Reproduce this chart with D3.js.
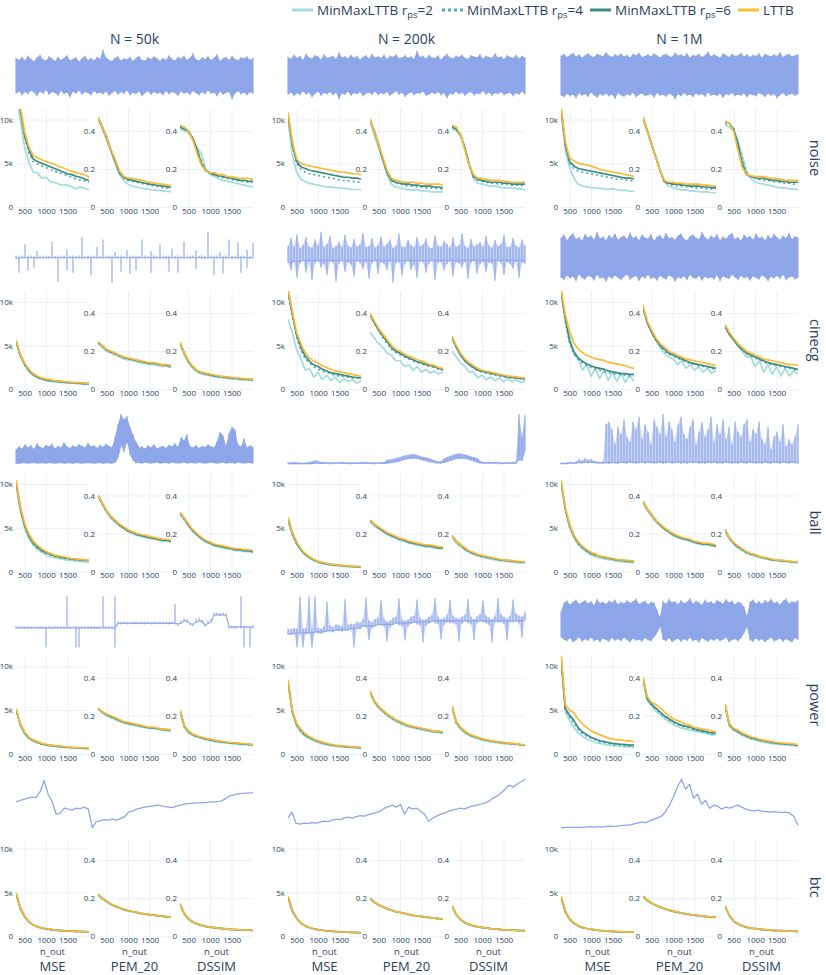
<!DOCTYPE html>
<html><head><meta charset="utf-8">
<script src="https://cdn.jsdelivr.net/npm/d3@7"></script>
<style>body{margin:0;background:#fff}svg{display:block}text{font-family:"Open Sans",sans-serif;fill:#2a3f5f}</style>
</head><body><svg id="c" width="826" height="975"></svg>
<script>
// ---------------- DATA ----------------
const datasets = ["noise","cinecg","ball","power","btc"];
const sizes = ["50k","200k","1M"];
const sizeTitles = ["N = 50k","N = 200k","N = 1M"];
const metrics = ["MSE","PEM_20","DSSIM"];
const seriesLabels = ["MinMaxLTTB r_ps=2","MinMaxLTTB r_ps=4","MinMaxLTTB r_ps=6","LTTB"];
const n_out = [300,400,500,600,700,800,900,1000,1100,1200,1300,1400,1500,1600,1700,1800,1900,2000];
const xTicks = [500,1000,1500];
const mseTicks = [0,5,10];            // MSE values are in thousands
const mseTickLabels = ["0","5k","10k"];
const ratioTicks = [0,0.2,0.4];
const ratioTickLabels = ["0","0.2","0.4"];

// metric curves: [r_ps=2, r_ps=4, r_ps=6, LTTB]; MSE in thousands
const noise_50k_MSE = [
 [13.0,10.0,6.8,5.1,4.0,3.9,3.3,3.4,2.9,2.8,2.6,2.5,2.5,2.3,2.1,2.3,2.1,2.0],
 [13.6,11.0,8.0,6.2,5.2,4.9,4.7,4.5,4.3,4.1,3.9,3.8,3.6,3.4,3.2,3.1,3.0,2.8],
 [13.8,11.2,8.2,6.5,5.5,5.2,5.0,4.8,4.6,4.4,4.2,4.0,3.8,3.7,3.5,3.4,3.2,3.0],
 [14.0,11.5,8.6,6.9,5.9,5.6,5.4,5.2,5.0,4.9,4.6,4.5,4.2,4.1,3.9,3.8,3.7,3.4]];
const noise_50k_PEM = [
 [0.46,0.41,0.35,0.29,0.23,0.17,0.14,0.12,0.11,0.105,0.10,0.095,0.092,0.09,0.087,0.085,0.082,0.08],
 [0.47,0.42,0.36,0.30,0.24,0.18,0.15,0.14,0.135,0.13,0.125,0.12,0.115,0.11,0.107,0.103,0.10,0.097],
 [0.47,0.42,0.37,0.30,0.24,0.18,0.155,0.145,0.14,0.135,0.13,0.125,0.12,0.117,0.113,0.11,0.107,0.103],
 [0.47,0.42,0.37,0.30,0.25,0.19,0.16,0.152,0.15,0.145,0.14,0.135,0.13,0.127,0.122,0.12,0.116,0.112]];
const noise_50k_DSSIM = [
 [0.41,0.40,0.39,0.36,0.31,0.28,0.20,0.17,0.16,0.15,0.14,0.135,0.13,0.125,0.12,0.115,0.11,0.105],
 [0.42,0.41,0.39,0.36,0.30,0.24,0.19,0.175,0.17,0.16,0.155,0.15,0.145,0.14,0.135,0.135,0.13,0.13],
 [0.42,0.41,0.40,0.36,0.30,0.23,0.19,0.18,0.17,0.165,0.16,0.155,0.15,0.145,0.14,0.14,0.135,0.135],
 [0.43,0.42,0.40,0.35,0.28,0.22,0.19,0.18,0.18,0.17,0.17,0.16,0.16,0.155,0.15,0.15,0.15,0.145]];
const noise_200k_MSE = [
 [10.0,6.0,4.0,3.2,2.9,2.7,2.6,2.5,2.4,2.3,2.3,2.2,2.2,2.1,2.1,2.0,2.0,2.0],
 [10.5,7.0,5.0,4.3,4.0,3.8,3.7,3.6,3.5,3.4,3.3,3.2,3.1,3.0,3.0,2.9,2.9,2.8],
 [10.6,7.2,5.2,4.6,4.4,4.2,4.1,4.0,3.9,3.8,3.7,3.6,3.5,3.4,3.4,3.3,3.3,3.2],
 [10.8,7.5,5.5,5.0,4.8,4.7,4.6,4.5,4.4,4.3,4.2,4.1,4.0,4.0,3.9,3.8,3.8,3.7]];
const noise_200k_PEM = [
 [0.45,0.38,0.31,0.24,0.17,0.12,0.105,0.10,0.095,0.09,0.09,0.09,0.085,0.085,0.08,0.08,0.08,0.08],
 [0.46,0.39,0.32,0.25,0.18,0.14,0.125,0.12,0.115,0.11,0.11,0.105,0.105,0.10,0.10,0.10,0.095,0.095],
 [0.46,0.40,0.33,0.25,0.18,0.14,0.13,0.125,0.12,0.12,0.115,0.115,0.11,0.11,0.11,0.105,0.105,0.10],
 [0.46,0.40,0.33,0.26,0.19,0.15,0.14,0.135,0.13,0.13,0.13,0.125,0.125,0.12,0.12,0.12,0.12,0.115]];
const noise_200k_DSSIM = [
 [0.41,0.40,0.37,0.31,0.23,0.15,0.125,0.12,0.115,0.11,0.11,0.105,0.10,0.10,0.10,0.095,0.095,0.09],
 [0.42,0.41,0.38,0.31,0.23,0.16,0.14,0.135,0.13,0.125,0.125,0.12,0.12,0.12,0.115,0.115,0.115,0.11],
 [0.42,0.41,0.38,0.31,0.22,0.16,0.145,0.14,0.135,0.13,0.13,0.13,0.125,0.125,0.12,0.12,0.12,0.12],
 [0.43,0.42,0.38,0.30,0.22,0.17,0.15,0.15,0.145,0.14,0.14,0.14,0.135,0.135,0.13,0.13,0.13,0.13]];
const noise_1M_MSE = [
 [11.0,6.5,4.5,3.3,2.6,2.4,2.3,2.2,2.2,2.1,2.1,2.0,2.1,2.0,1.9,1.9,1.8,1.8],
 [11.2,7.0,5.0,4.4,4.1,4.0,3.9,3.8,3.7,3.6,3.5,3.4,3.3,3.2,3.2,3.1,3.0,3.0],
 [11.3,7.2,5.2,4.7,4.4,4.3,4.2,4.1,4.0,3.9,3.8,3.7,3.6,3.5,3.4,3.3,3.3,3.2],
 [11.5,7.5,5.6,5.3,5.0,4.9,4.8,4.7,4.5,4.3,4.2,4.1,4.0,3.9,3.8,3.7,3.6,3.5]];
const noise_1M_PEM = [
 [0.46,0.40,0.33,0.26,0.19,0.13,0.11,0.10,0.095,0.09,0.09,0.085,0.085,0.08,0.08,0.08,0.075,0.075],
 [0.47,0.40,0.33,0.26,0.19,0.13,0.12,0.115,0.11,0.11,0.105,0.105,0.10,0.10,0.10,0.095,0.095,0.095],
 [0.47,0.40,0.33,0.26,0.19,0.135,0.125,0.12,0.12,0.115,0.115,0.11,0.11,0.11,0.105,0.105,0.10,0.10],
 [0.47,0.40,0.33,0.26,0.19,0.14,0.13,0.13,0.125,0.125,0.12,0.12,0.12,0.12,0.115,0.115,0.11,0.11]];
const noise_1M_DSSIM = [
 [0.43,0.42,0.40,0.35,0.27,0.19,0.15,0.13,0.125,0.12,0.115,0.11,0.105,0.10,0.10,0.095,0.095,0.09],
 [0.44,0.43,0.41,0.34,0.25,0.18,0.16,0.15,0.145,0.14,0.14,0.135,0.13,0.13,0.125,0.125,0.12,0.12],
 [0.45,0.44,0.41,0.33,0.23,0.17,0.16,0.155,0.15,0.15,0.145,0.14,0.14,0.135,0.135,0.13,0.13,0.13],
 [0.45,0.44,0.40,0.30,0.21,0.17,0.165,0.16,0.16,0.16,0.155,0.15,0.15,0.145,0.14,0.14,0.14,0.14]];

const cinecg_50k_MSE = [
 [5.4,3.8,2.8,2.0,1.6,1.3,1.1,1.0,0.9,0.85,0.8,0.75,0.7,0.7,0.65,0.6,0.6,0.55],
 [5.5,3.9,2.8,2.1,1.7,1.4,1.2,1.1,1.0,0.9,0.85,0.8,0.8,0.75,0.7,0.7,0.65,0.6],
 [5.5,3.9,2.9,2.2,1.7,1.4,1.25,1.1,1.0,0.95,0.9,0.85,0.8,0.75,0.75,0.7,0.65,0.65],
 [5.6,4.0,3.0,2.3,1.8,1.5,1.3,1.2,1.1,1.0,0.95,0.9,0.85,0.8,0.8,0.75,0.7,0.7]];
const cinecg_50k_PEM = [
 [0.24,0.22,0.20,0.19,0.18,0.17,0.16,0.155,0.15,0.145,0.14,0.135,0.13,0.13,0.125,0.12,0.12,0.115],
 [0.245,0.225,0.205,0.195,0.185,0.175,0.165,0.16,0.155,0.15,0.145,0.14,0.135,0.135,0.13,0.125,0.125,0.12],
 [0.248,0.228,0.208,0.198,0.188,0.178,0.168,0.162,0.157,0.152,0.147,0.142,0.138,0.137,0.132,0.128,0.127,0.122],
 [0.25,0.23,0.21,0.20,0.19,0.18,0.17,0.165,0.16,0.155,0.15,0.145,0.14,0.14,0.135,0.13,0.13,0.125]];
const cinecg_50k_DSSIM = [
 [0.24,0.18,0.14,0.11,0.09,0.08,0.075,0.07,0.065,0.062,0.06,0.058,0.055,0.053,0.05,0.049,0.048,0.046],
 [0.245,0.185,0.145,0.115,0.095,0.085,0.08,0.075,0.07,0.066,0.064,0.06,0.058,0.056,0.054,0.052,0.05,0.049],
 [0.245,0.19,0.145,0.118,0.098,0.088,0.082,0.077,0.072,0.068,0.066,0.063,0.06,0.058,0.056,0.054,0.053,0.051],
 [0.25,0.19,0.15,0.12,0.10,0.09,0.085,0.08,0.075,0.07,0.068,0.065,0.063,0.06,0.058,0.056,0.055,0.053]];
const cinecg_200k_MSE = [
 [8.0,6.5,4.5,3.5,2.2,2.4,1.4,1.9,1.1,1.6,1.0,1.4,0.8,1.2,0.9,1.1,0.7,1.0],
 [11.0,8.3,6.0,4.5,3.5,3.0,2.6,2.3,2.1,1.9,1.8,1.6,1.5,1.5,1.4,1.3,1.3,1.2],
 [11.3,8.6,6.2,4.8,3.8,3.2,2.8,2.6,2.3,2.1,1.9,1.8,1.7,1.6,1.5,1.4,1.35,1.3],
 [11.5,8.9,6.5,5.2,4.2,3.6,3.2,3.0,2.7,2.5,2.3,2.1,2.0,1.9,1.8,1.7,1.6,1.5]];
const cinecg_200k_PEM = [
 [0.30,0.27,0.24,0.22,0.19,0.18,0.15,0.15,0.12,0.13,0.10,0.12,0.09,0.105,0.085,0.095,0.08,0.09],
 [0.39,0.35,0.31,0.27,0.24,0.21,0.195,0.18,0.17,0.16,0.15,0.14,0.135,0.125,0.12,0.115,0.105,0.10],
 [0.39,0.35,0.31,0.28,0.25,0.22,0.20,0.19,0.175,0.165,0.155,0.145,0.14,0.13,0.125,0.12,0.11,0.105],
 [0.40,0.36,0.32,0.29,0.26,0.23,0.21,0.20,0.185,0.175,0.165,0.155,0.15,0.14,0.13,0.125,0.115,0.11]];
const cinecg_200k_DSSIM = [
 [0.20,0.17,0.14,0.12,0.09,0.09,0.06,0.075,0.05,0.065,0.045,0.06,0.04,0.055,0.04,0.05,0.035,0.045],
 [0.27,0.22,0.18,0.15,0.13,0.11,0.10,0.09,0.085,0.08,0.075,0.07,0.065,0.062,0.06,0.058,0.055,0.052],
 [0.27,0.22,0.18,0.15,0.13,0.115,0.10,0.095,0.09,0.085,0.08,0.075,0.07,0.065,0.062,0.06,0.058,0.055],
 [0.28,0.23,0.19,0.16,0.14,0.125,0.11,0.10,0.095,0.09,0.085,0.08,0.075,0.07,0.068,0.065,0.062,0.06]];
const cinecg_1M_MSE = [
 [11.0,8.5,6.2,4.0,3.5,2.2,2.8,1.5,2.4,1.2,2.2,1.0,2.0,0.9,1.8,0.8,1.6,0.9],
 [11.2,7.8,5.3,4.0,3.4,3.0,2.7,2.5,2.3,2.2,2.0,1.9,1.8,1.7,1.7,1.6,1.5,1.5],
 [11.3,8.0,5.5,4.3,3.6,3.2,2.9,2.7,2.5,2.4,2.3,2.1,2.0,1.9,1.8,1.8,1.7,1.7],
 [11.5,8.5,6.6,5.3,4.6,4.2,3.9,3.7,3.5,3.4,3.3,3.1,3.0,2.9,2.8,2.7,2.5,2.4]];
const cinecg_1M_PEM = [
 [0.43,0.35,0.30,0.26,0.22,0.19,0.17,0.16,0.13,0.15,0.11,0.13,0.10,0.12,0.09,0.11,0.085,0.10],
 [0.43,0.35,0.30,0.26,0.23,0.20,0.185,0.175,0.165,0.155,0.145,0.135,0.13,0.125,0.12,0.115,0.11,0.105],
 [0.43,0.35,0.30,0.26,0.23,0.21,0.19,0.18,0.17,0.16,0.15,0.14,0.135,0.13,0.125,0.12,0.115,0.11],
 [0.44,0.36,0.31,0.27,0.24,0.22,0.20,0.19,0.18,0.17,0.16,0.155,0.15,0.145,0.14,0.135,0.13,0.125]];
const cinecg_1M_DSSIM = [
 [0.33,0.29,0.26,0.23,0.20,0.17,0.17,0.12,0.15,0.09,0.13,0.08,0.12,0.07,0.11,0.07,0.10,0.08],
 [0.33,0.29,0.26,0.23,0.21,0.19,0.175,0.165,0.155,0.145,0.135,0.13,0.125,0.12,0.115,0.11,0.105,0.10],
 [0.33,0.29,0.26,0.23,0.21,0.19,0.18,0.17,0.16,0.15,0.14,0.135,0.13,0.125,0.12,0.115,0.11,0.105],
 [0.34,0.30,0.27,0.24,0.22,0.20,0.19,0.18,0.17,0.16,0.155,0.15,0.145,0.14,0.135,0.13,0.13,0.125]];

const ball_50k_MSE = [
 [10.0,7.0,5.0,3.8,3.0,2.5,2.2,1.9,1.7,1.6,1.5,1.4,1.3,1.25,1.2,1.15,1.1,1.05],
 [10.3,7.2,5.2,4.0,3.2,2.7,2.4,2.1,1.9,1.8,1.6,1.55,1.5,1.4,1.35,1.3,1.25,1.2],
 [10.3,7.3,5.3,4.1,3.3,2.8,2.4,2.2,2.0,1.8,1.7,1.6,1.5,1.45,1.4,1.35,1.3,1.25],
 [10.5,7.5,5.5,4.3,3.5,3.0,2.6,2.3,2.1,1.9,1.8,1.7,1.6,1.5,1.45,1.4,1.35,1.3]];
const ball_50k_PEM = [
 [0.39,0.35,0.31,0.28,0.26,0.24,0.225,0.21,0.20,0.19,0.185,0.18,0.175,0.17,0.165,0.16,0.16,0.155],
 [0.40,0.355,0.315,0.285,0.265,0.245,0.23,0.215,0.205,0.195,0.19,0.185,0.18,0.175,0.17,0.165,0.165,0.16],
 [0.40,0.36,0.32,0.29,0.265,0.245,0.23,0.215,0.205,0.195,0.19,0.185,0.18,0.175,0.17,0.165,0.165,0.16],
 [0.40,0.36,0.32,0.29,0.27,0.25,0.235,0.22,0.21,0.20,0.195,0.19,0.185,0.18,0.175,0.17,0.17,0.165]];
const ball_50k_DSSIM = [
 [0.30,0.27,0.24,0.21,0.19,0.17,0.155,0.145,0.135,0.13,0.125,0.12,0.115,0.11,0.11,0.105,0.105,0.10],
 [0.30,0.275,0.245,0.215,0.195,0.175,0.16,0.15,0.14,0.135,0.13,0.125,0.12,0.115,0.115,0.11,0.11,0.105],
 [0.31,0.28,0.245,0.215,0.195,0.175,0.16,0.15,0.14,0.135,0.13,0.125,0.12,0.115,0.115,0.11,0.11,0.105],
 [0.31,0.28,0.25,0.22,0.20,0.18,0.165,0.155,0.145,0.14,0.135,0.13,0.125,0.12,0.12,0.115,0.115,0.11]];
const ball_200k_MSE = [
 [5.8,4.2,3.1,2.4,1.9,1.5,1.25,1.05,0.92,0.82,0.75,0.7,0.65,0.6,0.56,0.52,0.5,0.48],
 [6.0,4.3,3.2,2.5,2.0,1.6,1.3,1.1,0.98,0.88,0.8,0.75,0.7,0.65,0.6,0.56,0.55,0.52],
 [6.1,4.4,3.3,2.5,2.0,1.65,1.35,1.15,1.0,0.9,0.82,0.77,0.72,0.67,0.62,0.58,0.57,0.53],
 [6.2,4.5,3.4,2.6,2.1,1.7,1.4,1.2,1.05,0.95,0.85,0.8,0.75,0.7,0.65,0.6,0.6,0.55]];
const ball_200k_PEM = [
 [0.26,0.24,0.225,0.21,0.195,0.185,0.175,0.165,0.16,0.15,0.145,0.14,0.135,0.13,0.13,0.125,0.12,0.12],
 [0.265,0.245,0.23,0.215,0.20,0.19,0.18,0.17,0.165,0.155,0.15,0.145,0.14,0.135,0.135,0.13,0.125,0.125],
 [0.27,0.25,0.23,0.215,0.20,0.19,0.18,0.17,0.165,0.155,0.15,0.145,0.14,0.135,0.135,0.13,0.125,0.125],
 [0.27,0.25,0.235,0.22,0.205,0.195,0.185,0.175,0.17,0.16,0.155,0.15,0.145,0.14,0.14,0.135,0.13,0.13]];
const ball_200k_DSSIM = [
 [0.18,0.15,0.13,0.115,0.10,0.09,0.082,0.076,0.07,0.066,0.062,0.058,0.055,0.053,0.05,0.048,0.046,0.044],
 [0.185,0.155,0.135,0.12,0.105,0.095,0.086,0.08,0.075,0.07,0.066,0.062,0.059,0.057,0.054,0.052,0.05,0.048],
 [0.19,0.16,0.14,0.12,0.107,0.097,0.088,0.082,0.077,0.072,0.068,0.063,0.06,0.058,0.056,0.053,0.051,0.049],
 [0.19,0.16,0.14,0.125,0.11,0.10,0.09,0.085,0.08,0.075,0.07,0.065,0.062,0.06,0.058,0.055,0.053,0.05]];
const ball_1M_MSE = [
 [10.0,7.0,5.0,3.9,3.1,2.6,2.2,1.9,1.7,1.55,1.45,1.35,1.3,1.2,1.15,1.1,1.05,1.0],
 [10.3,7.1,5.2,4.0,3.2,2.7,2.35,2.05,1.85,1.7,1.6,1.5,1.4,1.3,1.25,1.2,1.15,1.1],
 [10.4,7.2,5.3,4.1,3.3,2.8,2.4,2.1,1.9,1.75,1.65,1.55,1.45,1.35,1.3,1.25,1.2,1.15],
 [10.5,7.3,5.4,4.2,3.4,2.9,2.5,2.2,2.0,1.8,1.7,1.6,1.5,1.4,1.35,1.3,1.25,1.2]];
const ball_1M_PEM = [
 [0.36,0.32,0.29,0.26,0.24,0.22,0.205,0.19,0.18,0.17,0.165,0.16,0.15,0.145,0.14,0.14,0.135,0.13],
 [0.365,0.325,0.295,0.265,0.245,0.225,0.21,0.195,0.185,0.175,0.17,0.165,0.155,0.15,0.145,0.145,0.14,0.135],
 [0.37,0.33,0.30,0.27,0.245,0.225,0.21,0.195,0.185,0.175,0.17,0.165,0.155,0.15,0.145,0.145,0.14,0.135],
 [0.37,0.33,0.30,0.27,0.25,0.23,0.215,0.20,0.19,0.18,0.175,0.17,0.16,0.155,0.15,0.15,0.145,0.14]];
const ball_1M_DSSIM = [
 [0.21,0.17,0.145,0.125,0.11,0.097,0.088,0.082,0.074,0.069,0.064,0.06,0.057,0.055,0.053,0.05,0.048,0.046],
 [0.215,0.175,0.15,0.13,0.115,0.1,0.091,0.086,0.077,0.072,0.067,0.062,0.059,0.057,0.055,0.052,0.05,0.048],
 [0.22,0.18,0.15,0.13,0.117,0.102,0.093,0.088,0.078,0.073,0.068,0.063,0.06,0.058,0.056,0.053,0.051,0.049],
 [0.22,0.18,0.155,0.135,0.12,0.105,0.095,0.09,0.08,0.075,0.07,0.065,0.062,0.06,0.058,0.055,0.052,0.05]];

const power_50k_MSE = [
 [5.0,3.3,2.3,1.75,1.45,1.25,1.1,1.0,0.9,0.85,0.8,0.75,0.7,0.68,0.65,0.62,0.6,0.58],
 [5.1,3.4,2.4,1.8,1.5,1.3,1.15,1.05,0.95,0.9,0.85,0.8,0.75,0.72,0.68,0.66,0.64,0.61],
 [5.1,3.4,2.4,1.85,1.55,1.35,1.15,1.05,0.97,0.92,0.87,0.82,0.77,0.73,0.7,0.68,0.66,0.63],
 [5.2,3.5,2.5,1.9,1.6,1.4,1.2,1.1,1.0,0.95,0.9,0.85,0.8,0.75,0.72,0.7,0.68,0.65]];
const power_50k_PEM = [
 [0.235,0.215,0.20,0.19,0.18,0.17,0.162,0.157,0.152,0.147,0.142,0.138,0.134,0.133,0.13,0.125,0.124,0.12],
 [0.238,0.218,0.205,0.195,0.185,0.175,0.166,0.16,0.155,0.15,0.145,0.14,0.137,0.136,0.132,0.128,0.127,0.122],
 [0.24,0.22,0.207,0.197,0.187,0.177,0.168,0.162,0.157,0.152,0.147,0.142,0.138,0.138,0.133,0.129,0.128,0.123],
 [0.24,0.22,0.21,0.20,0.19,0.18,0.17,0.165,0.16,0.155,0.15,0.145,0.14,0.14,0.135,0.13,0.13,0.125]];
const power_50k_DSSIM = [
 [0.22,0.14,0.11,0.097,0.088,0.081,0.075,0.07,0.066,0.062,0.059,0.056,0.054,0.052,0.05,0.049,0.047,0.045],
 [0.225,0.145,0.115,0.1,0.091,0.084,0.078,0.073,0.069,0.065,0.062,0.059,0.057,0.055,0.053,0.051,0.049,0.047],
 [0.23,0.148,0.117,0.102,0.093,0.086,0.08,0.075,0.07,0.066,0.063,0.06,0.058,0.056,0.054,0.052,0.05,0.048],
 [0.23,0.15,0.12,0.105,0.095,0.088,0.082,0.077,0.072,0.068,0.065,0.062,0.06,0.058,0.056,0.054,0.052,0.05]];
const power_200k_MSE = [
 [8.2,4.7,3.2,2.5,2.0,1.75,1.5,1.3,1.15,1.05,0.95,0.88,0.82,0.78,0.74,0.7,0.68,0.65],
 [8.3,4.8,3.3,2.6,2.1,1.85,1.6,1.4,1.25,1.1,1.02,0.94,0.88,0.83,0.79,0.74,0.72,0.7],
 [8.4,4.9,3.4,2.7,2.2,1.9,1.65,1.45,1.3,1.15,1.05,0.96,0.9,0.86,0.82,0.77,0.75,0.72],
 [8.5,5.0,3.5,2.8,2.3,2.0,1.7,1.5,1.35,1.2,1.1,1.0,0.95,0.9,0.85,0.8,0.78,0.75]];
const power_200k_PEM = [
 [0.32,0.27,0.24,0.22,0.2,0.185,0.17,0.16,0.15,0.142,0.137,0.132,0.127,0.122,0.118,0.113,0.112,0.108],
 [0.325,0.275,0.245,0.225,0.205,0.19,0.175,0.165,0.155,0.146,0.141,0.136,0.131,0.126,0.121,0.116,0.116,0.111],
 [0.33,0.278,0.248,0.228,0.208,0.193,0.178,0.168,0.158,0.148,0.143,0.138,0.133,0.128,0.123,0.118,0.118,0.113],
 [0.33,0.28,0.25,0.23,0.21,0.195,0.18,0.17,0.16,0.15,0.145,0.14,0.135,0.13,0.125,0.12,0.12,0.115]];
const power_200k_DSSIM = [
 [0.24,0.16,0.13,0.11,0.097,0.087,0.08,0.073,0.068,0.064,0.06,0.057,0.054,0.052,0.05,0.048,0.046,0.044],
 [0.245,0.165,0.135,0.115,0.1,0.09,0.083,0.076,0.071,0.066,0.063,0.06,0.057,0.054,0.052,0.05,0.048,0.046],
 [0.25,0.168,0.138,0.117,0.102,0.093,0.086,0.078,0.073,0.068,0.065,0.062,0.059,0.056,0.054,0.052,0.049,0.047],
 [0.25,0.17,0.14,0.12,0.105,0.095,0.088,0.08,0.075,0.07,0.066,0.063,0.06,0.057,0.055,0.053,0.05,0.048]];
const power_1M_MSE = [
 [10.8,4.8,3.8,3.0,2.4,2.0,1.7,1.5,1.3,1.2,1.1,1.0,0.95,0.9,0.85,0.8,0.8,0.75],
 [11.0,5.0,4.2,3.5,2.8,2.3,2.0,1.8,1.6,1.4,1.3,1.2,1.1,1.05,1.0,0.95,0.9,0.9],
 [11.2,5.2,4.4,3.8,3.0,2.5,2.2,1.9,1.7,1.5,1.4,1.3,1.2,1.15,1.1,1.05,1.0,1.0],
 [11.5,5.6,5.0,4.7,4.0,3.4,3.0,2.6,2.4,2.2,2.0,1.8,1.7,1.6,1.6,1.5,1.5,1.4]];
const power_1M_PEM = [
 [0.39,0.28,0.25,0.225,0.205,0.185,0.17,0.155,0.145,0.135,0.13,0.125,0.12,0.115,0.11,0.105,0.10,0.10],
 [0.39,0.29,0.26,0.235,0.215,0.195,0.18,0.165,0.155,0.145,0.14,0.135,0.125,0.12,0.115,0.11,0.105,0.105],
 [0.40,0.29,0.26,0.24,0.22,0.20,0.185,0.17,0.16,0.15,0.145,0.14,0.13,0.125,0.12,0.115,0.11,0.11],
 [0.40,0.30,0.27,0.26,0.24,0.22,0.20,0.185,0.175,0.165,0.155,0.15,0.14,0.135,0.13,0.125,0.12,0.115]];
const power_1M_DSSIM = [
 [0.25,0.15,0.125,0.112,0.098,0.088,0.079,0.073,0.067,0.062,0.058,0.054,0.051,0.049,0.047,0.045,0.043,0.041],
 [0.255,0.153,0.128,0.116,0.102,0.092,0.083,0.077,0.071,0.066,0.062,0.058,0.055,0.053,0.051,0.049,0.047,0.045],
 [0.26,0.156,0.13,0.119,0.105,0.095,0.086,0.08,0.074,0.069,0.065,0.061,0.057,0.055,0.053,0.051,0.049,0.047],
 [0.26,0.16,0.135,0.125,0.11,0.10,0.09,0.085,0.078,0.072,0.068,0.064,0.06,0.058,0.056,0.054,0.052,0.05]];

const btc_50k_MSE = [
 [4.8,3.1,2.2,1.6,1.25,1.05,0.9,0.8,0.73,0.68,0.64,0.6,0.57,0.55,0.53,0.51,0.49,0.47],
 [4.9,3.2,2.25,1.65,1.28,1.08,0.92,0.83,0.76,0.7,0.66,0.62,0.59,0.57,0.55,0.53,0.51,0.49],
 [4.9,3.25,2.28,1.68,1.3,1.1,0.94,0.84,0.77,0.71,0.67,0.63,0.6,0.58,0.56,0.54,0.52,0.5],
 [5.0,3.3,2.3,1.7,1.3,1.1,0.95,0.85,0.78,0.72,0.68,0.64,0.6,0.58,0.56,0.54,0.52,0.5]];
const btc_50k_PEM = [
 [0.215,0.195,0.18,0.166,0.156,0.147,0.139,0.132,0.127,0.122,0.118,0.115,0.112,0.109,0.106,0.103,0.101,0.098],
 [0.218,0.198,0.183,0.168,0.158,0.148,0.14,0.134,0.129,0.124,0.119,0.116,0.113,0.11,0.107,0.104,0.102,0.099],
 [0.22,0.2,0.184,0.169,0.159,0.149,0.141,0.135,0.13,0.125,0.12,0.117,0.114,0.111,0.108,0.105,0.103,0.1],
 [0.22,0.2,0.185,0.17,0.16,0.15,0.142,0.135,0.13,0.125,0.12,0.117,0.114,0.111,0.108,0.105,0.103,0.1]];
const btc_50k_DSSIM = [
 [0.165,0.115,0.087,0.072,0.062,0.055,0.05,0.046,0.043,0.04,0.038,0.036,0.035,0.034,0.033,0.032,0.031,0.029],
 [0.168,0.118,0.089,0.074,0.064,0.057,0.051,0.047,0.044,0.041,0.039,0.037,0.036,0.035,0.034,0.033,0.032,0.03],
 [0.17,0.119,0.09,0.075,0.065,0.058,0.052,0.048,0.045,0.042,0.04,0.038,0.036,0.035,0.034,0.033,0.032,0.03],
 [0.17,0.12,0.09,0.075,0.065,0.058,0.052,0.048,0.045,0.042,0.04,0.038,0.036,0.035,0.034,0.033,0.032,0.03]];
const btc_200k_MSE = [
 [4.4,2.8,2.0,1.45,1.15,0.95,0.82,0.72,0.65,0.6,0.56,0.52,0.48,0.46,0.44,0.42,0.4,0.38],
 [4.5,2.9,2.05,1.48,1.18,0.98,0.84,0.74,0.67,0.61,0.57,0.53,0.49,0.47,0.45,0.43,0.41,0.39],
 [4.5,2.95,2.08,1.5,1.2,1.0,0.85,0.75,0.68,0.62,0.58,0.54,0.5,0.48,0.46,0.44,0.42,0.4],
 [4.6,3.0,2.1,1.5,1.2,1.0,0.85,0.75,0.68,0.62,0.58,0.54,0.5,0.48,0.46,0.44,0.42,0.4]];
const btc_200k_PEM = [
 [0.195,0.176,0.162,0.152,0.142,0.135,0.128,0.123,0.118,0.113,0.108,0.105,0.102,0.099,0.096,0.093,0.091,0.088],
 [0.198,0.178,0.164,0.154,0.144,0.137,0.129,0.124,0.119,0.114,0.109,0.106,0.103,0.1,0.097,0.094,0.092,0.089],
 [0.2,0.18,0.165,0.155,0.145,0.138,0.13,0.125,0.12,0.115,0.11,0.107,0.104,0.101,0.098,0.095,0.093,0.09],
 [0.2,0.18,0.165,0.155,0.145,0.138,0.13,0.125,0.12,0.115,0.11,0.107,0.104,0.101,0.098,0.095,0.093,0.09]];
const btc_200k_DSSIM = [
 [0.155,0.11,0.085,0.07,0.06,0.053,0.048,0.045,0.042,0.039,0.037,0.035,0.033,0.032,0.031,0.03,0.029,0.028],
 [0.158,0.113,0.087,0.071,0.061,0.054,0.049,0.046,0.043,0.04,0.038,0.036,0.034,0.033,0.032,0.031,0.03,0.029],
 [0.16,0.114,0.088,0.072,0.062,0.055,0.05,0.046,0.043,0.04,0.038,0.036,0.034,0.033,0.032,0.031,0.03,0.029],
 [0.16,0.115,0.088,0.072,0.062,0.055,0.05,0.046,0.043,0.04,0.038,0.036,0.034,0.033,0.032,0.031,0.03,0.029]];
const btc_1M_MSE = [
 [4.4,2.7,1.9,1.45,1.15,0.96,0.85,0.77,0.7,0.64,0.6,0.56,0.53,0.51,0.49,0.47,0.45,0.43],
 [4.5,2.8,1.95,1.48,1.18,0.98,0.87,0.79,0.71,0.65,0.61,0.57,0.54,0.52,0.5,0.48,0.46,0.44],
 [4.5,2.85,1.98,1.5,1.2,1.0,0.88,0.8,0.72,0.66,0.62,0.58,0.55,0.53,0.51,0.49,0.47,0.45],
 [4.6,2.9,2.0,1.5,1.2,1.0,0.88,0.8,0.72,0.66,0.62,0.58,0.55,0.53,0.51,0.49,0.47,0.45]];
const btc_1M_PEM = [
 [0.205,0.185,0.171,0.16,0.15,0.142,0.135,0.129,0.124,0.12,0.116,0.112,0.109,0.106,0.103,0.101,0.099,0.098],
 [0.208,0.188,0.173,0.162,0.152,0.144,0.137,0.131,0.126,0.121,0.117,0.113,0.11,0.107,0.104,0.102,0.1,0.099],
 [0.21,0.19,0.175,0.163,0.153,0.145,0.138,0.132,0.127,0.122,0.118,0.114,0.111,0.108,0.105,0.103,0.101,0.1],
 [0.21,0.19,0.175,0.163,0.153,0.145,0.138,0.132,0.127,0.122,0.118,0.114,0.111,0.108,0.105,0.103,0.101,0.1]];
const btc_1M_DSSIM = [
 [0.155,0.105,0.077,0.063,0.053,0.046,0.041,0.038,0.035,0.033,0.031,0.03,0.029,0.028,0.027,0.026,0.025,0.024],
 [0.158,0.108,0.079,0.064,0.054,0.047,0.042,0.039,0.036,0.034,0.032,0.031,0.03,0.029,0.028,0.027,0.026,0.025],
 [0.16,0.11,0.08,0.065,0.055,0.048,0.043,0.04,0.037,0.035,0.033,0.031,0.03,0.029,0.028,0.027,0.026,0.025],
 [0.16,0.11,0.08,0.065,0.055,0.048,0.043,0.04,0.037,0.035,0.033,0.031,0.03,0.029,0.028,0.027,0.026,0.025]];

// raw time series, per-bin max (hi) and min (lo), relative 0..100
const ts_noise_50k_hi = [84,80,86,79,88,82,77,85,90,81,79,87,83,78,86,80,84,89,79,82,85,77,83,88,80,84,79,86,82,100,85,80,78,84,87,79,83,81,86,78,84,88,80,79,85,82,87,83,78,84,80,89,82,79,86,83,88,80,84,93,81,79,85,82,87,80,84,91,78,83,86,80,88,82,79,85,83,87,80,84];
const ts_noise_50k_lo = [14,18,10,16,12,19,15,8,17,13,20,11,16,14,9,18,12,15,6,17,13,19,11,16,14,10,18,13,15,12,17,9,14,18,11,16,13,19,10,15,12,17,8,14,18,11,16,13,15,10,18,12,16,14,9,17,13,15,11,18,14,10,16,12,19,13,15,8,17,11,14,16,2,13,18,12,15,10,16,13];
const ts_noise_200k_hi = [86,82,90,84,88,80,92,85,83,89,87,81,91,84,86,88,82,95,85,87,83,90,84,88,81,86,89,83,92,85,87,84,90,82,88,86,91,83,85,89,84,87,82,98,86,88,83,90,85,84,89,81,87,92,85,83,88,86,90,84,82,89,87,85,91,83,88,86,84,93,85,87,82,89,86,84,90,83,88,85];
const ts_noise_200k_lo = [12,16,8,14,10,18,11,15,6,13,17,9,14,12,16,10,15,2,13,11,17,9,14,12,16,8,13,15,11,17,10,14,12,16,9,13,18,11,15,7,12,16,10,14,13,17,9,11,15,12,16,10,14,4,13,11,17,12,15,9,14,16,10,13,12,18,11,15,9,14,12,16,10,13,15,8,14,11,17,12];
const ts_noise_1M_hi = [88,92,86,90,94,87,91,85,89,93,88,86,92,90,87,95,89,86,91,88,93,87,90,85,92,89,94,86,88,91,87,93,89,85,90,92,88,86,94,89,91,87,93,85,90,88,92,86,89,96,87,91,88,85,93,90,86,92,88,89,94,87,91,86,90,88,93,85,92,89,87,91,88,95,86,90,92,87,89,91];
const ts_noise_1M_lo = [10,6,13,8,11,4,14,9,12,7,15,10,5,12,9,13,8,11,3,14,10,7,12,9,15,6,11,13,8,10,12,5,14,9,11,7,13,10,2,12,8,14,9,11,6,13,10,12,7,15,9,11,8,13,5,12,10,14,8,11,9,13,6,12,10,8,14,11,7,13,9,12,4,10,14,8,11,13,9,12];
const ts_cinecg_50k_hi = [53,52,53,75,52,53,52,62,53,52,53,52,80,52,53,52,53,65,52,53,52,53,90,52,53,52,53,70,52,85,53,52,53,60,52,53,52,64,53,52,53,52,85,53,52,62,53,52,75,53,52,53,66,52,53,52,80,53,52,53,63,52,53,52,100,53,52,53,60,52,53,85,52,53,80,52,53,64,52,78];
const ts_cinecg_50k_lo = [48,20,49,48,25,49,30,48,49,48,49,48,49,48,2,49,48,25,49,20,48,49,48,49,48,15,49,48,49,48,49,48,0,49,48,22,49,48,18,49,25,48,49,48,49,20,48,49,48,49,48,22,49,48,20,49,48,49,48,49,28,49,48,48,49,49,15,48,49,18,48,49,48,49,48,20,49,30,48,49];
const ts_cinecg_200k_hi = [72,88,70,95,68,74,90,71,69,85,73,100,70,76,92,68,72,80,70,94,73,69,86,71,75,98,70,72,88,69,74,91,70,77,85,68,73,96,71,70,84,74,69,90,72,75,87,70,68,93,73,71,82,76,69,89,70,74,97,72,68,86,71,75,80,70,92,73,69,84,72,76,95,70,71,88,73,69,85,72];
const ts_cinecg_200k_lo = [40,25,42,10,38,44,20,41,5,39,43,30,37,15,42,40,2,38,44,22,40,36,12,43,39,28,41,8,38,44,18,40,37,25,43,0,39,41,14,38,44,26,36,10,42,40,20,38,44,6,39,41,24,37,43,12,40,38,30,42,8,39,44,18,37,41,22,40,38,4,43,39,16,41,37,28,42,10,40,38];
const ts_cinecg_1M_hi = [88,95,84,92,98,86,90,83,96,89,93,85,100,87,91,84,94,88,97,85,90,93,86,99,88,92,84,95,89,87,96,83,91,94,86,98,88,90,85,93,97,87,84,92,95,89,86,100,90,85,93,88,96,84,91,87,94,98,86,90,83,95,89,92,85,97,88,91,84,94,87,96,90,85,93,88,98,86,92,89];
const ts_cinecg_1M_lo = [10,5,14,8,12,3,16,9,6,13,11,4,15,8,10,2,12,7,14,9,5,11,16,6,10,13,3,12,8,15,7,10,4,13,9,6,14,11,2,10,8,12,5,15,9,7,13,4,11,8,10,6,14,3,12,9,7,15,10,5,13,8,11,4,12,9,6,14,10,3,11,8,13,7,15,5,10,12,6,9];
const ts_ball_50k_hi = [30,36,32,40,34,38,31,42,35,33,39,36,41,32,37,34,44,36,33,38,35,40,37,34,43,36,38,33,39,35,41,37,34,55,80,100,90,96,75,60,45,33,36,31,38,34,40,32,35,37,33,39,36,42,35,55,48,60,36,34,38,33,37,35,40,36,34,46,65,58,38,62,75,70,40,36,52,34,38,35];
const ts_ball_50k_lo = [3,2,4,3,2,3,4,2,3,3,2,4,3,2,3,4,2,3,3,2,4,3,2,3,4,3,2,3,4,2,3,3,2,5,15,40,25,45,20,8,3,3,2,4,3,2,3,4,2,3,3,2,4,3,2,3,4,2,3,3,2,4,3,2,3,4,3,2,3,4,2,3,3,2,4,3,2,3,3,2];
const ts_ball_200k_hi = [4,4,5,4,4,3,4,5,6,8,7,5,4,4,3,4,4,4,5,4,4,3,4,4,4,5,4,4,4,3,4,4,5,9,10,11,13,14,16,18,19,20,21,19,17,15,13,11,9,7,5,6,12,14,17,19,21,22,21,20,18,16,14,12,6,4,4,5,4,4,4,3,4,4,4,5,5,100,55,98];
const ts_ball_200k_lo = [2,2,2,2,2,1,2,2,2,3,3,2,2,2,1,2,2,2,2,2,2,1,2,2,2,2,2,2,2,1,2,2,2,3,4,5,6,7,9,11,12,13,13,12,10,8,7,5,4,3,2,2,4,6,8,10,12,13,13,12,10,8,6,4,2,2,2,2,2,2,2,1,2,2,2,2,2,10,8,30];
const ts_ball_1M_hi = [4,3,4,5,4,6,10,8,12,9,11,7,5,4,6,80,85,70,40,75,60,90,55,45,85,70,95,50,80,65,40,90,75,60,100,55,85,70,45,80,95,60,50,75,90,40,65,85,55,70,95,45,80,60,90,50,75,40,85,65,55,80,90,45,70,60,85,50,40,75,30,55,65,45,80,35,50,40,55,80];
const ts_ball_1M_lo = [2,2,2,3,2,3,4,3,5,3,4,3,2,2,2,3,2,4,3,2,5,3,2,4,3,2,3,5,2,4,3,2,3,4,2,3,5,2,3,4,2,3,2,5,3,4,2,3,2,4,3,5,2,3,2,4,3,2,3,2,5,3,2,4,3,2,3,2,5,3,2,4,3,2,5,3,2,4,3,2];
const ts_power_50k_hi = [41,40,41,40,41,40,41,40,40,41,40,41,40,41,40,41,40,100,41,40,41,40,40,41,40,41,41,40,41,100,40,41,40,100,50,49,50,50,49,50,50,49,50,50,50,49,50,49,50,50,50,49,50,85,46,52,57,55,47,45,56,58,53,44,52,55,68,68,67,68,66,41,40,41,40,100,41,40,40,42];
const ts_power_50k_lo = [38,37,38,37,38,37,38,37,37,38,0,38,37,38,37,38,37,38,37,38,0,0,37,38,37,38,37,37,38,38,37,38,37,0,47,46,47,46,47,46,47,46,47,46,47,46,47,46,47,46,47,46,47,46,43,47,52,50,44,42,50,52,48,41,47,50,63,64,63,64,62,37,38,37,38,38,0,38,0,38];
const ts_power_200k_hi = [36,35,37,36,100,36,37,100,36,100,38,36,40,90,42,40,45,43,41,95,44,46,45,50,48,55,98,52,50,55,58,92,56,50,52,58,60,96,55,52,54,60,62,94,58,54,55,60,64,97,60,55,58,63,93,62,58,56,60,64,95,60,55,60,65,92,62,58,55,62,96,64,60,56,62,94,66,62,60,70];
const ts_power_200k_lo = [26,25,27,0,28,0,27,28,0,30,28,27,30,32,32,30,34,33,31,34,34,36,0,38,36,42,40,15,38,42,45,44,42,12,40,45,48,44,42,14,42,47,50,46,44,10,43,48,52,48,46,16,45,50,48,48,45,12,47,52,48,46,15,48,52,50,48,45,10,50,50,50,47,14,50,50,52,48,20,55];
const ts_power_1M_hi = [70,88,92,85,90,94,86,89,93,87,91,84,95,88,90,86,92,89,94,85,90,87,93,88,91,96,86,89,92,85,90,88,75,60,92,86,95,89,91,85,93,88,90,97,86,92,89,84,94,88,91,86,93,90,87,95,89,92,85,90,88,80,62,90,94,87,91,86,93,89,95,88,90,85,92,96,87,91,89,93];
const ts_power_1M_lo = [20,15,12,18,10,14,20,11,16,13,19,12,15,10,17,14,11,18,13,16,12,19,14,10,17,13,15,11,18,14,12,20,30,42,15,12,18,10,14,17,11,16,13,19,12,15,10,18,14,11,16,13,17,12,15,19,10,14,16,12,18,28,40,14,11,17,13,16,10,15,19,12,14,17,11,16,13,10,18,15];
const ts_btc_50k = [55,57,60,62,64,63,75,97,70,55,30,32,42,40,38,42,41,44,40,3,15,17,19,18,20,18,21,25,34,36,40,42,44,45,46,48,47,45,44,43,46,48,50,51,52,52,53,53,54,54,55,56,60,66,68,70,71,72,72,73];
const ts_btc_200k = [22,34,12,10,12,11,13,12,14,16,15,18,20,19,22,24,22,25,27,26,29,31,33,36,42,45,48,44,50,30,44,40,42,36,30,16,22,26,30,32,36,38,40,42,40,44,46,48,50,52,56,62,66,72,80,88,84,90,95,100];
const ts_btc_1M = [3,3,4,3,4,3,4,5,4,5,4,5,6,5,6,7,8,8,10,12,14,13,16,20,22,26,35,48,65,85,100,80,90,62,70,50,58,42,48,46,40,44,42,45,48,44,40,38,36,38,36,35,34,35,34,33,34,32,25,8];

// lookup tables built from the named arrays
const metricData = {
 noise:  [[noise_50k_MSE,noise_50k_PEM,noise_50k_DSSIM],[noise_200k_MSE,noise_200k_PEM,noise_200k_DSSIM],[noise_1M_MSE,noise_1M_PEM,noise_1M_DSSIM]],
 cinecg: [[cinecg_50k_MSE,cinecg_50k_PEM,cinecg_50k_DSSIM],[cinecg_200k_MSE,cinecg_200k_PEM,cinecg_200k_DSSIM],[cinecg_1M_MSE,cinecg_1M_PEM,cinecg_1M_DSSIM]],
 ball:   [[ball_50k_MSE,ball_50k_PEM,ball_50k_DSSIM],[ball_200k_MSE,ball_200k_PEM,ball_200k_DSSIM],[ball_1M_MSE,ball_1M_PEM,ball_1M_DSSIM]],
 power:  [[power_50k_MSE,power_50k_PEM,power_50k_DSSIM],[power_200k_MSE,power_200k_PEM,power_200k_DSSIM],[power_1M_MSE,power_1M_PEM,power_1M_DSSIM]],
 btc:    [[btc_50k_MSE,btc_50k_PEM,btc_50k_DSSIM],[btc_200k_MSE,btc_200k_PEM,btc_200k_DSSIM],[btc_1M_MSE,btc_1M_PEM,btc_1M_DSSIM]]
};
const tsData = {
 noise:  [[ts_noise_50k_hi,ts_noise_50k_lo],[ts_noise_200k_hi,ts_noise_200k_lo],[ts_noise_1M_hi,ts_noise_1M_lo]],
 cinecg: [[ts_cinecg_50k_hi,ts_cinecg_50k_lo],[ts_cinecg_200k_hi,ts_cinecg_200k_lo],[ts_cinecg_1M_hi,ts_cinecg_1M_lo]],
 ball:   [[ts_ball_50k_hi,ts_ball_50k_lo],[ts_ball_200k_hi,ts_ball_200k_lo],[ts_ball_1M_hi,ts_ball_1M_lo]],
 power:  [[ts_power_50k_hi,ts_power_50k_lo],[ts_power_200k_hi,ts_power_200k_lo],[ts_power_1M_hi,ts_power_1M_lo]],
 btc:    [[ts_btc_50k,null],[ts_btc_200k,null],[ts_btc_1M,null]]
};

// ---------------- STYLE / LAYOUT ----------------
const L = {gx:[16,288,561], gw:237, pw:73, pgap:9, rowStep:182.3, tsTop:50, tsH:50, mTop:109, mBot:207};
const seriesColors = ["#a3dcdc","#4fadaf","#3b8b86","#fcba35"];
const seriesDash = [null,"2,3",null,null];
const tsColor = "#8ea7e9";
const gridColor = "#ebf0f8";
const tsFillOpacity = {noise:[1,1,1], cinecg:[0,0.55,1], ball:[1,0.8,0.5], power:[0,0.45,1], btc:[0,0,0]};
const legendX = [292,442,590,738];

const svg = d3.select("#c");
const defs = svg.append("defs");

// legend
seriesLabels.forEach((lab,i)=>{
  const g = svg.append("g");
  g.append("line").attr("x1",legendX[i]).attr("x2",legendX[i]+21).attr("y1",10).attr("y2",10)
    .attr("stroke",seriesColors[i]).attr("stroke-width",3).attr("stroke-dasharray",seriesDash[i]?"3,3":null);
  const t = g.append("text").attr("x",legendX[i]+25).attr("y",14.6).attr("font-size",13.5);
  const parts = lab.split("_ps");
  if(parts.length===2){
    t.append("tspan").text(parts[0]);
    t.append("tspan").attr("font-size",9.5).attr("dy",3).text("ps");
    t.append("tspan").attr("dy",-3).text(parts[1]);
  } else t.text(lab);
});

// column titles
sizeTitles.forEach((s,c)=>{
  svg.append("text").attr("x",L.gx[c]+L.gw/2).attr("y",44).attr("text-anchor","middle").attr("font-size",14).text(s);
});

// per-bin pen path: carry the pen level through each bin, drawing its full min..max extent
function binPoints(hi, lo){
  const pts = [];
  let pen = lo[0];
  hi.forEach((h,i)=>{
    pen = Math.max(lo[i], Math.min(h, pen));
    pts.push([i,pen],[i,h],[i,lo[i]],[i,pen]);
  });
  return pts;
}

let clipN = 0;
datasets.forEach((ds,r)=>{
  const off = r*L.rowStep;
  const tsTop = L.tsTop+off, mTop = L.mTop+off, mBot = L.mBot+off;
  svg.append("text").attr("transform",`translate(810,${(mTop+mBot)/2}) rotate(90)`)
    .attr("text-anchor","middle").attr("font-size",14.5).text(ds);

  sizes.forEach((sz,c)=>{
    const gx = L.gx[c];
    const [hi,lo] = tsData[ds][c];
    const xs = d3.scaleLinear().domain([0,hi.length-1]).range([gx,gx+L.gw]);
    const ys = d3.scaleLinear().domain([0,100]).range([tsTop+L.tsH,tsTop]);
    if(lo){
      const fo = tsFillOpacity[ds][c];
      if(fo>0){
        svg.append("path").attr("d", d3.area().x((d,i)=>xs(i)).y0((d,i)=>ys(lo[i])).y1(d=>ys(d))(hi))
          .attr("fill",tsColor).attr("fill-opacity",fo);
      }
      svg.append("path").attr("d", d3.line().x(p=>xs(p[0])).y(p=>ys(p[1]))(binPoints(hi,lo)))
        .attr("fill","none").attr("stroke",tsColor).attr("stroke-width",1.1).attr("stroke-linejoin","round");
    } else {
      svg.append("path").attr("d", d3.line().x((d,i)=>xs(i)).y(d=>ys(d))(hi))
        .attr("fill","none").attr("stroke",tsColor).attr("stroke-width",1.3).attr("stroke-linejoin","round");
    }

    metrics.forEach((m,k)=>{
      const px = gx + k*(L.pw+L.pgap);
      const x = d3.scaleLinear().domain([300,2000]).range([px,px+L.pw]);
      const isMSE = k===0;
      const y = d3.scaleLinear().domain([0, isMSE?11.2:0.515]).range([mBot,mTop]);
      const tickV = isMSE?mseTicks:ratioTicks, tickL = isMSE?mseTickLabels:ratioTickLabels;
      const gxA = svg.append("g").attr("transform",`translate(0,${mBot})`)
        .call(d3.axisBottom(x).tickValues(xTicks).tickSize(-(mBot-mTop)).tickPadding(1).tickFormat(d3.format("d")));
      const gyA = svg.append("g").attr("transform",`translate(${px},0)`)
        .call(d3.axisLeft(y).tickValues(tickV).tickSize(-L.pw).tickPadding(3).tickFormat((d,i)=>tickL[i]));
      [gxA,gyA].forEach(a=>{
        a.attr("font-size",8).attr("font-family",null);
        a.select(".domain").remove();
        a.selectAll("line").attr("stroke",gridColor).attr("stroke-width",1);
      });
      const id = "cp"+(clipN++);
      defs.append("clipPath").attr("id",id).append("rect").attr("x",px).attr("y",mTop).attr("width",L.pw).attr("height",mBot-mTop);
      const lg = svg.append("g").attr("clip-path",`url(#${id})`);
      metricData[ds][c][k].forEach((vals,s)=>{
        lg.append("path").attr("d", d3.line().x((d,i)=>x(n_out[i])).y(d=>y(d))(vals))
          .attr("fill","none").attr("stroke",seriesColors[s]).attr("stroke-width",1.7)
          .attr("stroke-dasharray",seriesDash[s]).attr("stroke-linejoin","round");
      });
      if(r===datasets.length-1){
        svg.append("text").attr("x",px+L.pw/2).attr("y",955).attr("text-anchor","middle").attr("font-size",9.5).text("n_out");
        svg.append("text").attr("x",px+L.pw/2).attr("y",971).attr("text-anchor","middle").attr("font-size",13).text(m);
      }
    });
  });
});
</script></body></html>
